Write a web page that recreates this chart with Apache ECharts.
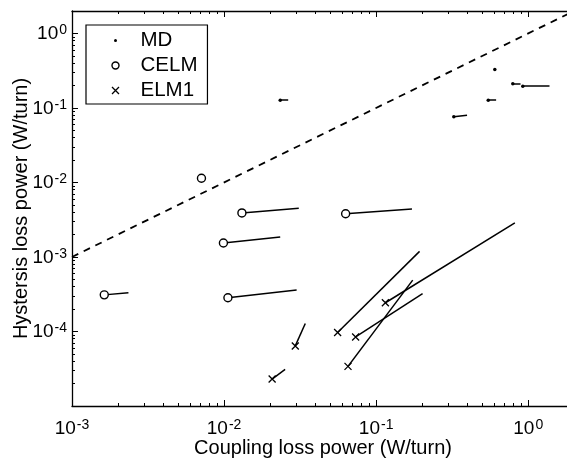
<!DOCTYPE html>
<html>
<head>
<meta charset="utf-8">
<script src="https://cdn.jsdelivr.net/npm/echarts@6/dist/echarts.min.js"></script>
<style>html,body{margin:0;padding:0;background:#fff}#c{width:567px;height:458px}</style>
</head>
<body>
<div id="c"></div>
<script>
// ---- data ----
const xMajorTicks = [1e-3, 1e-2, 1e-1, 1];
const yMajorTicks = [1e-5, 1e-4, 1e-3, 1e-2, 1e-1, 1];
const xRange = [1e-3, 2];
const yRange = [1e-5, 2];

const mdStart = [[0.0234, 0.127], [0.603, 0.327], [0.792, 0.211], [0.921, 0.196], [0.546, 0.127], [0.324, 0.076]];
const mdEnd   = [[0.0264, 0.127], null,           [0.890, 0.211], [1.38, 0.196],  [0.615, 0.127], [0.396, 0.080]];

const celmStart = [[1.63e-3, 3.1e-4], [7.1e-3, 1.14e-2], [1.31e-2, 3.9e-3], [6.3e-2, 3.8e-3], [9.9e-3, 1.54e-3], [1.06e-2, 2.84e-4]];
const celmEnd   = [[2.35e-3, 3.3e-4], null,              [3.1e-2, 4.5e-3],  [0.172, 4.4e-3],  [2.34e-2, 1.86e-3], [3.0e-2, 3.6e-4]];

const elmStart = [[5.58e-2, 9.7e-5], [7.33e-2, 8.45e-5], [6.53e-2, 3.4e-5], [0.115, 2.43e-4], [2.94e-2, 6.4e-5], [2.07e-2, 2.3e-5]];
const elmEnd   = [[0.193, 1.19e-3],  [0.202, 3.21e-4],   [0.174, 4.89e-4],  [0.817, 2.86e-3], [3.42e-2, 1.28e-4], [2.52e-2, 3.1e-5]];

const equalLine = [[1e-3, 1e-3], [2, 2]];

const seriesNames = ['MD', 'CELM', 'ELM1'];
const xTitle = 'Coupling loss power (W/turn)';
const yTitle = 'Hystersis loss power (W/turn)';

// ---- helpers ----
function minorTicks(range) {
  const out = [];
  const lo = Math.floor(Math.log10(range[0])), hi = Math.ceil(Math.log10(range[1]));
  for (let e = lo; e <= hi; e++) {
    for (let m = 2; m <= 9; m++) {
      const v = m * Math.pow(10, e);
      if (v > range[0] && v < range[1]) out.push(v);
    }
  }
  return out;
}
function segs(start, end) {
  const out = [];
  start.forEach((s, i) => { if (end[i]) out.push({ coords: [s, end[i]] }); });
  return out;
}
const FONT = '"Liberation Sans", Arial, Helvetica, sans-serif';
const rich = {
  b: { fontSize: 19, fontFamily: FONT, color: '#000', verticalAlign: 'bottom', lineHeight: 20 },
  s: { fontSize: 14, fontFamily: FONT, color: '#000', verticalAlign: 'top', lineHeight: 14, padding: [0, 0, 10, 1] }
};
function expLabel(v) {
  const e = Math.round(Math.log10(v));
  if (e <= -5) return '';
  return '{b|10}{s|' + e + '}';
}
const black = '#000';

function xAx(pos, major, labels) {
  return {
    type: 'log', position: pos, min: xRange[0], max: xRange[1], gridIndex: 0,
    axisLine: { show: major, onZero: false, lineStyle: { color: black, width: 1.3 } },
    axisTick: { show: true, inside: true, length: major ? 6 : 3, customValues: major ? xMajorTicks : minorTicks(xRange), lineStyle: { color: black, width: 1 } },
    axisLabel: labels ? { show: true, customValues: xMajorTicks, formatter: expLabel, rich: rich, margin: 12 } : { show: false },
    splitLine: { show: false }, minorTick: { show: false }
  };
}
function yAx(pos, major, labels) {
  return {
    type: 'log', position: pos, min: yRange[0], max: yRange[1], gridIndex: 0,
    axisLine: { show: major, onZero: false, lineStyle: { color: black, width: 1.3 } },
    axisTick: { show: true, inside: true, length: major ? 6 : 3, customValues: major ? yMajorTicks : minorTicks(yRange), lineStyle: { color: black, width: 1 } },
    axisLabel: labels ? { show: true, customValues: yMajorTicks, formatter: expLabel, rich: rich, margin: 5 } : { show: false },
    splitLine: { show: false }, minorTick: { show: false }
  };
}

const xAxes = [xAx('bottom', true, true), xAx('bottom', false, false), xAx('top', true, false), xAx('top', false, false)];
xAxes[0].name = xTitle;
xAxes[0].nameLocation = 'middle';
xAxes[0].nameGap = 32;
xAxes[0].nameMoveOverlap = false;
xAxes[0].nameTextStyle = { fontSize: 20, fontFamily: FONT, color: black };
const yAxes = [yAx('left', true, true), yAx('left', false, false), yAx('right', true, false), yAx('right', false, false)];
yAxes[0].name = yTitle;
yAxes[0].nameLocation = 'middle';
yAxes[0].nameGap = 41;
yAxes[0].nameMoveOverlap = false;
yAxes[0].nameTextStyle = { fontSize: 20, fontFamily: FONT, color: black };

const xSymbol = 'path://M0,0L10,10M10,0L0,10';
const segStyle = { color: black, width: 1.5, opacity: 1 };

const chart = echarts.init(document.getElementById('c'), null, { renderer: 'canvas' });
chart.setOption({
  animation: false,
  backgroundColor: '#fff',
  grid: { left: 72, top: 11, bottom: 52, right: -7, containLabel: false, outerBoundsMode: 'none' },
  xAxis: xAxes,
  yAxis: yAxes,
  legend: {
    orient: 'vertical', left: 86, top: 25,
    itemWidth: 40, itemHeight: 7, itemGap: 4,
    padding: [5, 10, 3, 24],
    borderColor: black, borderWidth: 1.2, backgroundColor: '#fff',
    textStyle: { fontSize: 20.5, fontFamily: FONT, color: black, lineHeight: 20 },
    data: [
      { name: seriesNames[0], icon: 'circle', itemStyle: { color: black, borderColor: '#fff', borderWidth: 4 } },
      { name: seriesNames[1], icon: 'circle', itemStyle: { color: '#fff', borderColor: black, borderWidth: 1.4 } },
      { name: seriesNames[2], icon: xSymbol, itemStyle: { color: 'transparent', borderColor: black, borderWidth: 1.3 } }
    ]
  },
  series: [
    { type: 'line', data: equalLine, showSymbol: false, silent: true, z: 1,
      lineStyle: { color: black, width: 1.8, type: [7, 6] } },
    { type: 'lines', name: 'md-seg', coordinateSystem: 'cartesian2d', data: segs(mdStart, mdEnd), lineStyle: segStyle, silent: true, z: 2 },
    { type: 'lines', name: 'celm-seg', coordinateSystem: 'cartesian2d', data: segs(celmStart, celmEnd), lineStyle: segStyle, silent: true, z: 2 },
    { type: 'lines', name: 'elm-seg', coordinateSystem: 'cartesian2d', data: segs(elmStart, elmEnd), lineStyle: segStyle, silent: true, z: 2 },
    { type: 'scatter', name: seriesNames[0], data: mdStart, symbol: 'circle', symbolSize: 3.5, z: 3,
      itemStyle: { color: black, opacity: 1 } },
    { type: 'scatter', name: seriesNames[1], data: celmStart, symbol: 'circle', symbolSize: 8, z: 3,
      itemStyle: { color: '#fff', borderColor: black, borderWidth: 1.4, opacity: 1 } },
    { type: 'scatter', name: seriesNames[2], data: elmStart, symbol: xSymbol, symbolSize: 7, z: 3,
      itemStyle: { color: 'transparent', borderColor: black, borderWidth: 1.3, opacity: 1 } }
  ]
});
</script>
</body>
</html>
